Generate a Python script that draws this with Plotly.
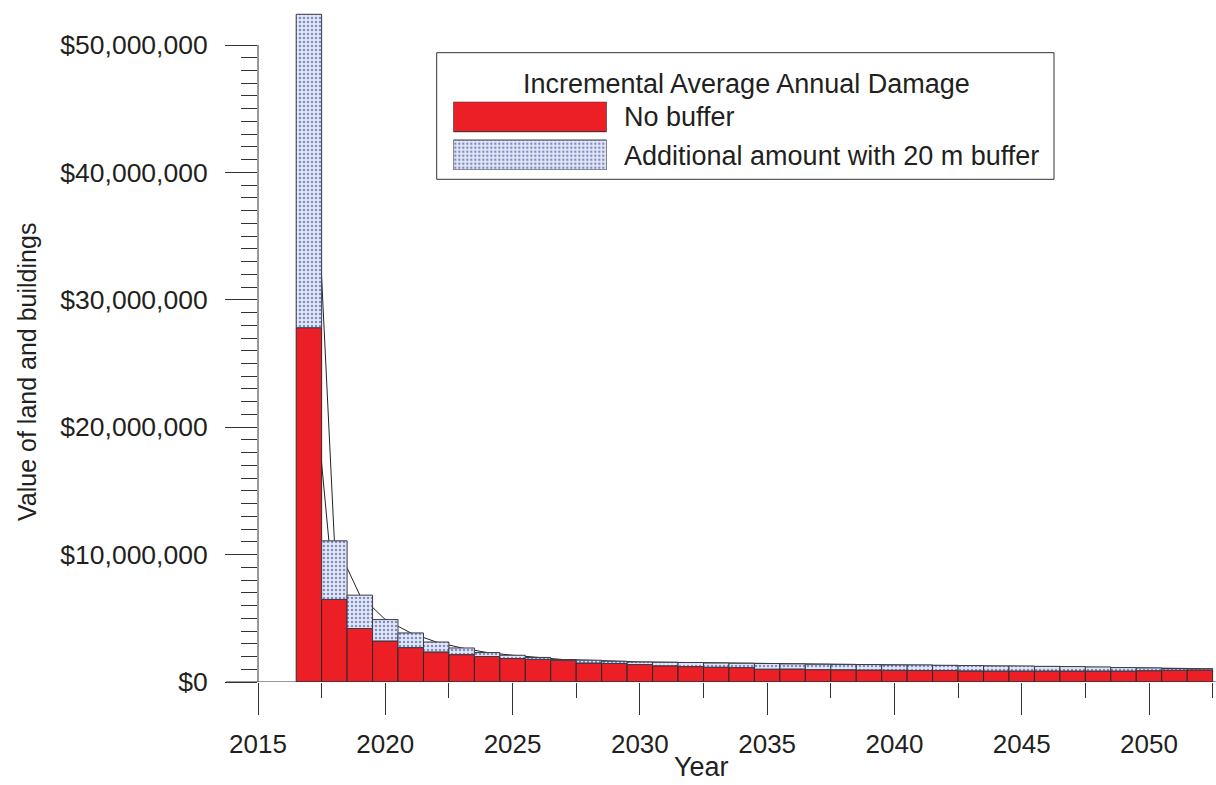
import plotly.graph_objects as go

# Incremental average annual damage by year ($)
years = list(range(2017, 2053))

no_buffer = [
    27.81e6, 6.48e6, 4.20e6, 3.22e6, 2.70e6, 2.36e6, 2.15e6, 2.00e6, 1.84e6, 1.78e6,
    1.71e6, 1.49e6, 1.45e6, 1.37e6, 1.27e6, 1.21e6, 1.16e6, 1.13e6, 1.01e6, 1.02e6,
    0.97e6, 0.96e6, 0.94e6, 0.92e6, 0.90e6, 0.90e6, 0.87e6, 0.86e6, 0.86e6, 0.86e6,
    0.86e6, 0.86e6, 0.86e6, 0.89e6, 0.93e6, 0.95e6,
]

additional_20m = [
    24.60e6, 4.60e6, 2.62e6, 1.68e6, 1.15e6, 0.78e6, 0.52e6, 0.31e6, 0.26e6, 0.15e6,
    0.05e6, 0.22e6, 0.18e6, 0.20e6, 0.28e6, 0.32e6, 0.33e6, 0.34e6, 0.44e6, 0.40e6,
    0.42e6, 0.42e6, 0.43e6, 0.42e6, 0.44e6, 0.41e6, 0.42e6, 0.40e6, 0.40e6, 0.37e6,
    0.35e6, 0.32e6, 0.27e6, 0.21e6, 0.13e6, 0.10e6,
]

with_buffer = [a + b for a, b in zip(no_buffer, additional_20m)]

y_tick_vals = [0, 10e6, 20e6, 30e6, 40e6, 50e6]
y_tick_text = ["$0", "$10,000,000", "$20,000,000", "$30,000,000", "$40,000,000", "$50,000,000"]
x_tick_vals = [2015, 2020, 2025, 2030, 2035, 2040, 2045, 2050]

legend_title = "Incremental Average Annual Damage"
series_names = ["No buffer", "Additional amount with 20 m buffer"]

RED = "#ed1f26"
EDGE = "#2a2a2a"
AXIS = "#333333"
TEXT = "#231f20"
FONT = "Liberation Sans, Arial, sans-serif"
DOT_BG = "#e4e8f5"
DOT_PATTERN = dict(shape=".", bgcolor=DOT_BG, fgcolor="#7d8dc6",
                   size=4, solidity=0.32, fillmode="replace")

W, H = 1216, 785
ML, MB = 258, 103
PW, PH = W - ML, H - MB


def px_x(p):
    return (p - ML) / PW


def px_y(p):
    return (PH - p) / PH


y_top = (PH / (682 - 45)) * 50e6
x_end = 2015 + PW / ((1149.3 - 258.3) / 35)

fig = go.Figure()

# thin connecting lines through the bar tops (on the base axes, under the bars)
fig.add_trace(go.Scatter(x=years, y=with_buffer, mode="lines",
                         line=dict(color="#222222", width=1), hoverinfo="skip"))
fig.add_trace(go.Scatter(x=years, y=no_buffer, mode="lines",
                         line=dict(color="#222222", width=1), hoverinfo="skip"))

# bars on an overlaying pair of axes so they sit above the lines
fig.add_trace(go.Bar(
    x=years, y=no_buffer, base=[0] * len(years), width=1,
    marker=dict(color=RED, line=dict(color=EDGE, width=1)),
    name=series_names[0], hoverinfo="skip", xaxis="x3", yaxis="y3",
))
fig.add_trace(go.Bar(
    x=years, y=additional_20m, base=no_buffer, width=1,
    marker=dict(color=DOT_BG, pattern=DOT_PATTERN, line=dict(color="#3a3a48", width=1)),
    name=series_names[1], hoverinfo="skip", xaxis="x3", yaxis="y3",
))

# legend swatches on their own small axes
sw_top, sw_bot = 101.7, 170.0
sw_h = 30.0
fig.add_trace(go.Bar(x=[0], y=[sw_h], base=[sw_bot - sw_top - sw_h], width=1,
                     marker=dict(color=RED, line=dict(color=EDGE, width=1)),
                     xaxis="x2", yaxis="y2", hoverinfo="skip"))
fig.add_trace(go.Bar(x=[0], y=[sw_h], base=[0], width=1,
                     marker=dict(color=DOT_BG, pattern=DOT_PATTERN,
                                 line=dict(color="#3a3a48", width=1)),
                     xaxis="x2", yaxis="y2", hoverinfo="skip"))

fig.update_layout(
    width=W, height=H,
    margin=dict(l=ML, r=0, t=0, b=MB),
    paper_bgcolor="white", plot_bgcolor="white",
    barmode="overlay", showlegend=False,
    font=dict(family=FONT, color=TEXT),
    xaxis=dict(
        range=[2015, x_end], showgrid=False, zeroline=False, showline=False,
        tickmode="array", tickvals=x_tick_vals, ticks="outside", ticklen=32,
        tickwidth=1, tickcolor=AXIS, tickfont=dict(size=26, family=FONT, color=TEXT),
        ticklabelstandoff=7,
        minor=dict(tickvals=[v + 2.5 for v in x_tick_vals], ticks="outside",
                   ticklen=15, tickwidth=1, tickcolor=AXIS, showgrid=False),
    ),
    yaxis=dict(
        range=[0, y_top], showgrid=False, zeroline=False, showline=False,
        tickmode="array", tickvals=y_tick_vals, ticktext=y_tick_text,
        ticks="outside", ticklen=32, tickwidth=1, tickcolor=AXIS,
        tickfont=dict(size=26.5, family=FONT, color=TEXT), ticklabelstandoff=12,
        minor=dict(tickvals=[v * 1e6 for v in range(1, 50) if v % 10],
                   ticks="outside", ticklen=16, tickwidth=1, tickcolor=AXIS,
                   showgrid=False),
    ),
    xaxis3=dict(range=[2015, x_end], overlaying="x", visible=False, anchor="y3"),
    yaxis3=dict(range=[0, y_top], overlaying="y", visible=False, anchor="x3"),
    xaxis2=dict(domain=[px_x(453.3), px_x(606.7)], range=[-0.5, 0.5], visible=False,
                anchor="y2", fixedrange=True),
    yaxis2=dict(domain=[px_y(sw_bot), px_y(sw_top)], range=[0, sw_bot - sw_top],
                visible=False, anchor="x2", fixedrange=True),
)

shapes = [
    # y axis line, 0 to 50M
    dict(type="line", xref="paper", yref="y", x0=0, x1=0, y0=0, y1=50e6,
         line=dict(color=AXIS, width=1)),
    # baseline, running a little left of the y axis
    dict(type="line", xref="paper", yref="y", x0=px_x(226), x1=1, y0=0, y1=0,
         line=dict(color=AXIS, width=1)),
    # legend frame
    dict(type="rect", xref="paper", yref="paper",
         x0=px_x(436.7), x1=px_x(1054), y0=px_y(179.3), y1=px_y(52.7),
         line=dict(color="#333333", width=1), fillcolor="rgba(0,0,0,0)", layer="below"),
]
fig.update_layout(shapes=shapes)

annotations = [
    dict(text=legend_title, x=px_x(746), y=px_y(84), xref="paper", yref="paper",
         showarrow=False, xanchor="center", yanchor="middle",
         font=dict(size=27, family=FONT, color=TEXT)),
    dict(text=series_names[0], x=px_x(622), y=px_y(117), xref="paper", yref="paper",
         showarrow=False, xanchor="left", yanchor="middle",
         font=dict(size=27, family=FONT, color=TEXT)),
    dict(text=series_names[1], x=px_x(622), y=px_y(156), xref="paper", yref="paper",
         showarrow=False, xanchor="left", yanchor="middle",
         font=dict(size=27, family=FONT, color=TEXT)),
    dict(text="Value of land and buildings", x=px_x(27), y=px_y(372),
         xref="paper", yref="paper", showarrow=False, textangle=-90,
         xanchor="center", yanchor="middle",
         font=dict(size=25, family=FONT, color=TEXT)),
    dict(text="Year", x=px_x(701), y=px_y(784), xref="paper", yref="paper",
         showarrow=False, xanchor="center", yanchor="bottom",
         font=dict(size=27, family=FONT, color=TEXT)),
]
fig.update_layout(annotations=annotations)

fig.write_html("out.html")
